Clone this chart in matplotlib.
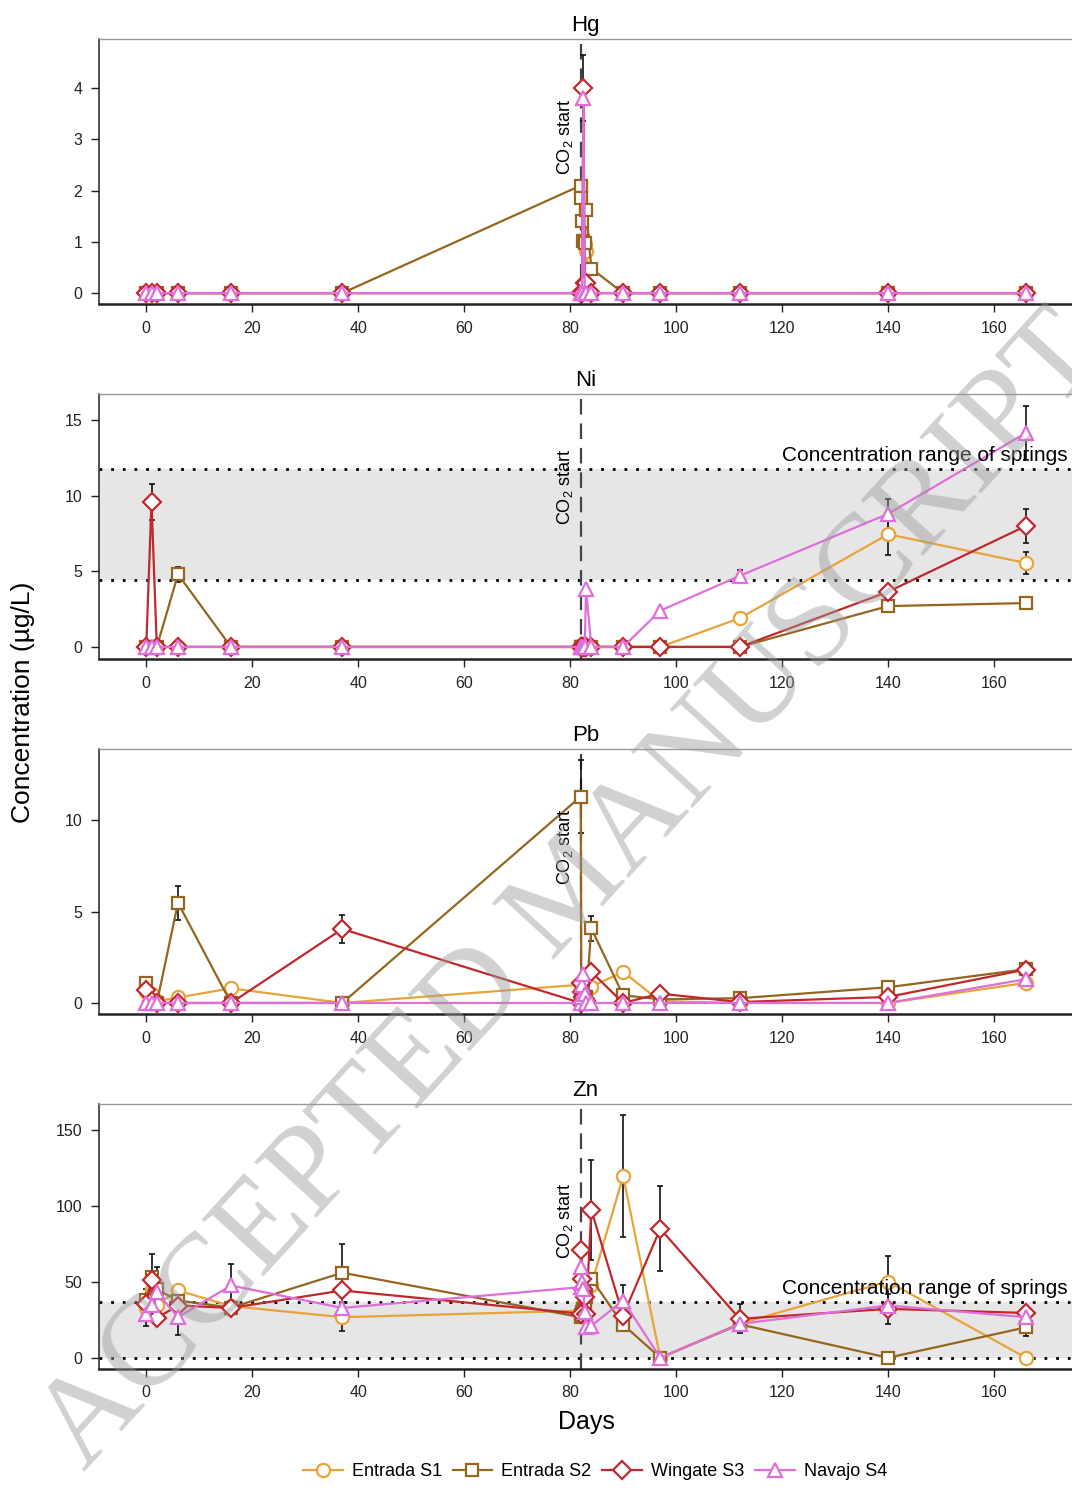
import numpy as np
import matplotlib
matplotlib.use('Agg')
import matplotlib.pyplot as plt

plt.rcParams['font.family'] = ['Liberation Sans', 'DejaVu Sans']
plt.rcParams['mathtext.fontset'] = 'custom'
plt.rcParams['mathtext.rm'] = 'Liberation Sans'
plt.rcParams['mathtext.it'] = 'Liberation Sans:italic'

# sampling days (several samples right after injection on day 82)
days = [0, 1, 2, 6, 16, 37, 82, 82.1, 82.25, 82.5, 82.75, 83, 84, 90, 97, 112, 140, 166]

sites = ['Entrada S1', 'Entrada S2', 'Wingate S3', 'Navajo S4']
colors = ['#E8A33A', '#94661E', '#C0282E', '#DE6FDA']
markers = ['o', 's', 'D', '^']
msizes = [9.5, 9, 9, 10.5]

co2_day = 82

# Hg (ug/L)
hg_s1 = [0, 0, 0, 0, 0, 0, 0, 0, 0, 1.0, 0.95, 0.82, 0, 0, 0, 0, 0, 0]
hg_s2 = [0, 0, 0, 0, 0, 0, 2.1, 1.85, 1.4, 1.02, 0.97, 1.63, 0.48, 0, 0, 0, 0, 0]
hg_s3 = [0, 0, 0, 0, 0, 0, 0, 0, 0, 4.0, 0.2, 0.2, 0, 0, 0, 0, 0, 0]
hg_s4 = [0, 0, 0, 0, 0, 0, 0, 0, 0, 3.8, 0, 0, 0, 0, 0, 0, 0, 0]
hg_err3 = [0, 0, 0, 0, 0, 0, 0, 0, 0, 0.65, 0, 0, 0, 0, 0, 0, 0, 0]

# Ni
ni_s1 = [0, 0, 0, 0, 0, 0, 0, 0, 0, 0, 0, 0, 0, 0, 0, 1.9, 7.45, 5.55]
ni_s2 = [0, 0, 0, 4.8, 0, 0, 0, 0, 0, 0, 0, 0, 0, 0, 0, 0, 2.7, 2.9]
ni_s3 = [0, 9.6, 0, 0, 0, 0, 0, 0, 0, 0, 0, 0, 0, 0, 0, 0, 3.65, 8.0]
ni_s4 = [0, 0, 0, 0, 0, 0, 0, 0, 0, 0, 0, 3.8, 0, 0, 2.4, 4.7, 8.8, 14.15]
ni_err1 = [0] * 16 + [1.4, 0.7]
ni_err2 = [0, 0, 0, 0.5] + [0] * 14
ni_err3 = [0, 1.2] + [0] * 15 + [1.1]
ni_err4 = [0] * 15 + [0.4, 1.0, 1.8]
ni_springs = (4.4, 11.75)

# Pb
pb_s1 = [0.6, 0.5, 0.1, 0.3, 0.8, 0, 1.0, 0.9, 0.8, 0.9, 0.9, 0.9, 0.9, 1.7, 0.1, 0, 0, 1.1]
pb_s2 = [1.08, 0, 0, 5.48, 0, 0, 11.3, 0.2, 0.2, 0.3, 0.3, 0.3, 4.08, 0.42, 0.2, 0.26, 0.86, 1.85]
pb_s3 = [0.7, 0.1, 0, 0, 0, 4.05, 0, 1.08, 0.6, 0.3, 0.2, 0.1, 1.7, 0, 0.51, 0.05, 0.33, 1.83]
pb_s4 = [0, 0, 0, 0, 0, 0, 0, 0.3, 1.0, 1.57, 0.5, 0, 0, 0, 0, 0, 0, 1.3]
pb_err2 = [0, 0, 0, 0.95, 0, 0, 2.0, 0, 0, 0, 0, 0, 0.7, 0, 0, 0, 0, 0]
pb_err3 = [0, 0, 0, 0, 0, 0.75] + [0] * 12

# Zn
zn_s1 = [33, 45, 35, 44.3, 34, 26.7, 31, 30, 28, 35, 40, 45, 48, 119.6, 0, 22.5, 50.2, 0]
zn_s2 = [38, 53, 45, 37.7, 33, 56, 26.7, 28, 30, 32, 35, 40, 52, 21.8, 0, 22, 0, 20]
zn_s3 = [35.5, 50.9, 26.2, 34.4, 32.8, 44.3, 29, 70.7, 52, 45.4, 40, 28.9, 97.2, 27.8, 85, 25.6, 32.2, 29.5]
zn_s4 = [28.9, 35, 43.2, 26.7, 47.6, 32.8, 46.5, 59.7, 50, 45, 30, 20, 21, 37.7, 0, 22.3, 34.4, 26.7]
zn_err1 = [12, 0, 0, 0, 0, 9, 0, 0, 0, 0, 0, 0, 0, 40, 0, 0, 17, 0]
zn_err2 = [0, 0, 15, 0, 0, 19, 0, 0, 0, 0, 0, 0, 0, 0, 0, 0, 0, 6]
zn_err3 = [0, 17.6, 0, 0, 0, 0, 0, 0, 0, 0, 0, 0, 33, 0, 28, 9.5, 10, 0]
zn_err4 = [0, 0, 0, 12, 14, 0, 0, 0, 0, 0, 0, 0, 0, 10, 0, 0, 0, 0]
zn_springs = (0, 37)

panels = [
    ('Hg', [hg_s1, hg_s2, hg_s3, hg_s4], [None, None, hg_err3, None],
     None, (-0.21, 4.96), [0, 1, 2, 3, 4], 0.9738, 0.630),
    ('Ni', [ni_s1, ni_s2, ni_s3, ni_s4], [ni_err1, ni_err2, ni_err3, ni_err4],
     ni_springs, (-0.79, 16.72), [0, 5, 10, 15], 0.7352, 0.650),
    ('Pb', [pb_s1, pb_s2, pb_s3, pb_s4], [None, pb_err2, pb_err3, None],
     None, (-0.6, 13.9), [0, 5, 10], 0.4966, 0.630),
    ('Zn', [zn_s1, zn_s2, zn_s3, zn_s4], [zn_err1, zn_err2, zn_err3, zn_err4],
     zn_springs, (-7.3, 167.2), [0, 50, 100, 150], 0.2581, 0.560),
]

fig = plt.figure(figsize=(10.72, 14.88), dpi=100)
ax_h = 0.178
left = 0.0924

handles = []
for name, series, errs, springs, ylim, yticks, top, lab_y in panels:
    ax = fig.add_axes([left, top - ax_h, 1.0 - left, ax_h])
    ax.set_xlim(-8.9, 174.7)
    ax.set_ylim(*ylim)
    ax.set_yticks(yticks)
    ax.set_xticks(np.arange(0, 161, 20))
    ax.tick_params(direction='out', length=6, width=1, labelsize=11.5, pad=6, colors='#222222')
    for s in ['left', 'bottom']:
        ax.spines[s].set_color('#222222')
    ax.spines['left'].set_linewidth(1.1)
    ax.spines['bottom'].set_linewidth(1.8)
    ax.spines['top'].set_color('#999999')
    ax.spines['top'].set_linewidth(1.0)
    ax.spines['right'].set_visible(False)
    ax.set_title(name, fontsize=16, pad=6)

    if springs is not None:
        lo, hi = springs
        ax.axhspan(lo, hi, color='#e6e6e6', zorder=0, lw=0)
        for v in springs:
            ax.axhline(v, color='black', ls=(0, (1, 3.2)), lw=2.0, zorder=1)
        ax.text(173.8, hi + (ylim[1] - ylim[0]) * 0.015, 'Concentration range of springs',
                fontsize=15, ha='right', va='bottom', zorder=6)

    ax.axvline(co2_day, color='#444444', ls=(0, (7, 4)), lw=1.6, zorder=2)
    ax.text(79.0, ylim[0] + lab_y * (ylim[1] - ylim[0]), 'CO$_2$ start', rotation=90,
            fontsize=13, ha='center', va='center', zorder=6)

    for i in range(4):
        if errs[i] is not None:
            e = np.array(errs[i], dtype=float)
            m = e > 0
            ax.errorbar(np.array(days)[m], np.array(series[i])[m], yerr=e[m], fmt='none',
                        ecolor='#111111', elinewidth=1.2, capsize=2.5, capthick=1.2, zorder=3)
        ln, = ax.plot(days, series[i], color=colors[i], lw=1.6, marker=markers[i],
                      ms=msizes[i], mfc='white', mec=colors[i], mew=1.6, zorder=4 + i * 0.1,
                      label=sites[i])
        if name == 'Hg':
            handles.append(ln)

fig.text(0.021, 0.528, 'Concentration (\u00b5g/L)', rotation=90, fontsize=19,
         ha='center', va='center')
fig.text(0.5466, 0.0444, 'Days', fontsize=18, ha='center', va='center')

fig.legend(handles=handles, labels=sites, loc='center', bbox_to_anchor=(0.555, 0.0108),
           ncol=4, frameon=False, fontsize=13, handlelength=2.2, handletextpad=0.5,
           columnspacing=0.6)

# diagonal watermark
fig.text(0.535, 0.40, 'ACCEPTED MANUSCRIPT', fontsize=92, family='Liberation Serif',
         rotation=47.5, color='#9a9a9a', alpha=0.45, ha='center', va='center', zorder=10)

fig.savefig('out.png', dpi=100)
